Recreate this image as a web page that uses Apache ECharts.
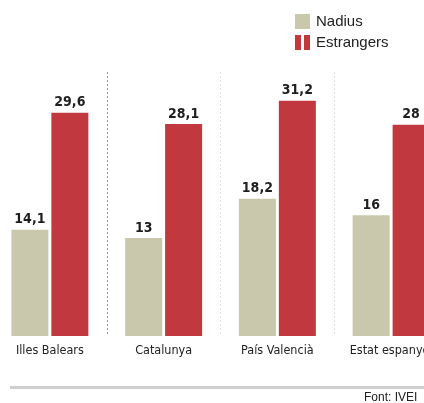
<!DOCTYPE html>
<html><head><meta charset="utf-8">
<script src="https://cdn.jsdelivr.net/npm/echarts@6/dist/echarts.min.js"></script>
<style>html,body{margin:0;padding:0;background:#fff}#c{width:424px;height:403px}</style>
</head><body><div id="c"></div>
<script>
const categories = ['Illes Balears', 'Catalunya', 'País Valencià', 'Estat espanyol'];
const nadius = [14.1, 13, 18.2, 16];
const estrangers = [29.6, 28.1, 31.2, 28];
const seriesNames = ['Nadius', 'Estrangers'];
const sourceText = 'Font: IVEI';

const chart = echarts.init(document.getElementById('c'), null, {renderer: 'canvas'});
const fmt = p => String(p.value).replace('.', ',');
const narrow = '"DejaVu Sans Condensed", "Liberation Sans Narrow", sans-serif';
const valLabel = {
  show: true, position: 'top', distance: 3, formatter: fmt,
  fontFamily: narrow, fontWeight: 'bold', fontSize: 14, color: '#1e1e1e'
};
chart.setOption({
  animation: false,
  grid: {left: -7, width: 455, top: 72, bottom: 67, outerBoundsMode: 'none', containLabel: false},
  legend: {
    orient: 'vertical', left: 290, top: 9, itemWidth: 15, itemHeight: 15, itemGap: 6,
    textStyle: {fontFamily: '"Liberation Sans", Arial, sans-serif', fontSize: 15, color: '#222', padding: [0,0,0,1]},
    data: [
      {name: seriesNames[0], icon: 'rect'},
      {name: seriesNames[1], icon: 'path://M0,0H6V15H0Z M9,0H15V15H9Z'}
    ]
  },
  xAxis: {
    type: 'category', data: categories,
    axisLine: {show: false}, axisTick: {show: false},
    axisLabel: {interval: 0, margin: 8, color: '#222', fontSize: 12.5, fontFamily: narrow, overflow: 'none', width: 200},
    splitLine: {show: true, interval: 0, lineStyle: {type: [2, 2], width: 1, color: ['#fff', '#9a9a9a', '#e0e0e0', '#e0e0e0', '#fff']}}
  },
  yAxis: {type: 'value', min: 0, max: 35, show: false, splitLine: {show: false}},
  series: [
    {name: seriesNames[0], type: 'bar', data: nadius, barWidth: 37, barGap: '8%',
     itemStyle: {color: '#c9c8ac'}, label: valLabel},
    {name: seriesNames[1], type: 'bar', data: estrangers, barWidth: 37,
     itemStyle: {color: '#c2383f'}, label: valLabel}
  ],
  graphic: [
    {type: 'rect', shape: {x: 10, y: 386, width: 414, height: 3}, style: {fill: '#cfcfcf'}},
    {type: 'text', left: 364, top: 392, style: {text: sourceText, fontSize: 12, fill: '#222', fontFamily: '"Liberation Sans", Arial, sans-serif'}}
  ]
});
</script></body></html>
